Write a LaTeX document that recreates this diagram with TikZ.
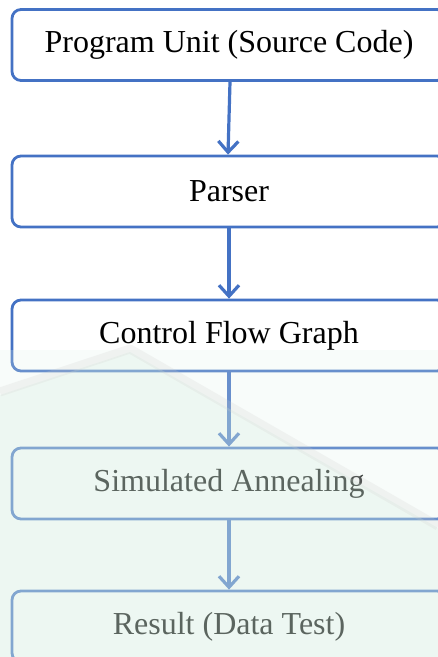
\documentclass[tikz,border=0pt]{standalone}
\usepackage{fontspec}
\setmainfont{Liberation Serif}
\usetikzlibrary{arrows.meta}
\definecolor{flowblue}{HTML}{4472C4}
\definecolor{mintwash}{HTML}{CFEADB}
\tikzset{
  stepbox/.style={draw=flowblue, line width=2.8pt, rounded corners=9pt,
    minimum width=434pt, minimum height=71pt, inner sep=0pt,
    font=\fontsize{32}{36}\selectfont},
  flow/.style={draw=flowblue, line width=3.2pt,
    -{Straight Barb[length=11pt, width=20pt, line width=3.2pt]}},
}
\begin{document}
\begin{tikzpicture}[x=1pt, y=-1pt]
  \useasboundingbox (0,0) rectangle (438,657);
  \clip (0,0) rectangle (438,657);

  % process steps, top to bottom
  \node[stepbox] (unit)   at (229,45)    {Program Unit (Source Code)};
  \node[stepbox] (parser) at (229,191.5) {Parser};
  \node[stepbox] (cfg)    at (229,335.5) {Control Flow Graph};
  \node[stepbox] (sa)     at (229,483.5) {Simulated Annealing};
  \node[stepbox] (result) at (229,626.5) {Result (Data Test)};

  % connectors
  \draw[flow] ([xshift=1pt]unit.south)   -- ([xshift=-1pt]parser.north);
  \draw[flow] (parser.south) -- (cfg.north);
  \draw[flow] (cfg.south)    -- (sa.north);
  \draw[flow] (sa.south)     -- (result.north);

  % faint wash over the lower part of the page
  \fill[white, opacity=0.1] (0,350) rectangle (438,657);
  \fill[mintwash, opacity=0.36]
    (0,395) -- (130,352) -- (438,528) -- (438,657) -- (0,657) -- cycle;
  \fill[mintwash, opacity=0.15]
    (0,350) -- (438,350) -- (438,528) -- (130,352) -- (0,395) -- cycle;
  \draw[gray!40, opacity=0.2, line width=9pt, line join=round]
    (0,392) -- (130,349) -- (438,526);
\end{tikzpicture}
\end{document}
